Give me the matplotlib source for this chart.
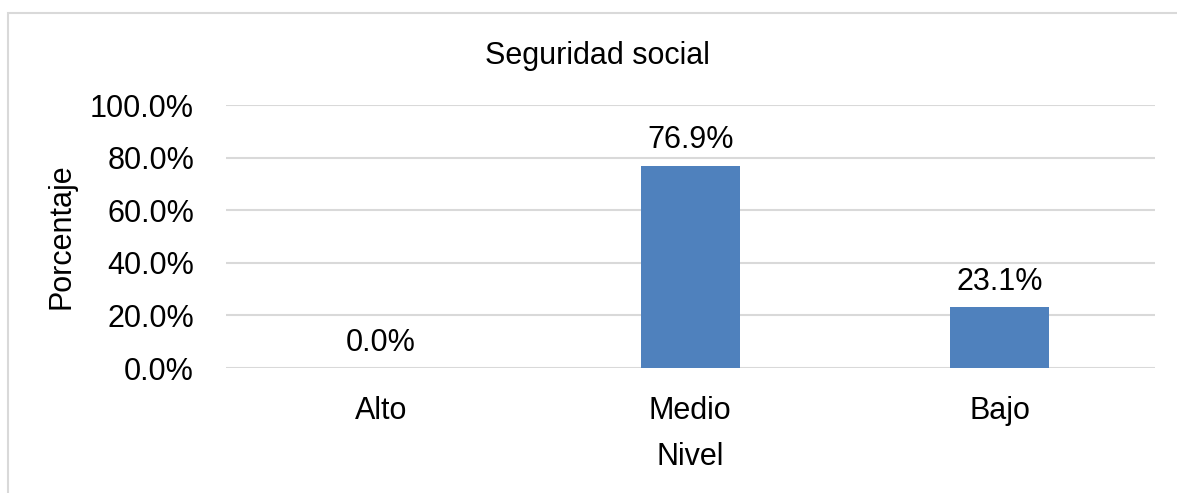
import matplotlib.pyplot as plt
from matplotlib.patches import Rectangle

categorias = ["Alto", "Medio", "Bajo"]
porcentajes = [0.0, 76.9, 23.1]
yticks = [0, 20, 40, 60, 80, 100]

plt.rcParams['font.family'] = ['Liberation Sans', 'DejaVu Sans']
fs = 22

fig = plt.figure(figsize=(11.77, 4.93), dpi=100)
ax = fig.add_axes([0.192, 0.2535, 0.789, 0.533])

# marco del grafico
fig.patches.append(Rectangle((8 / 1177, -0.1), 1.2, 1 - 13 / 493 + 0.1,
                             transform=fig.transFigure, fill=False,
                             edgecolor="#D9D9D9", linewidth=1.5))

x = range(len(categorias))
bars = ax.bar(x, porcentajes, width=0.32, color="#4F81BD", zorder=3)
for b, v in zip(bars, porcentajes):
    ax.text(b.get_x() + b.get_width() / 2, v + 4, f"{v:.1f}%",
            ha="center", va="bottom", fontsize=fs)

ax.set_xlim(-0.5, 2.5)
ax.set_ylim(0, 100)
ax.set_yticks(yticks)
ax.set_yticklabels([f"{t:.1f}%" for t in yticks])
ax.set_xticks(list(x))
ax.set_xticklabels(categorias)
ax.tick_params(axis="both", length=0, labelsize=fs)
ax.tick_params(axis="y", pad=23)
ax.tick_params(axis="x", pad=20)
ax.grid(axis="y", color="#D9D9D9", linewidth=1.5, zorder=0)
for s in ax.spines.values():
    s.set_visible(False)

ax.set_xlabel("Nivel", fontsize=fs, labelpad=12)
ax.set_ylabel("Porcentaje", fontsize=fs, labelpad=10)
fig.text(0.508, 0.886, "Seguridad social", ha="center", va="center", fontsize=fs)

fig.savefig("out.png", dpi=100)
